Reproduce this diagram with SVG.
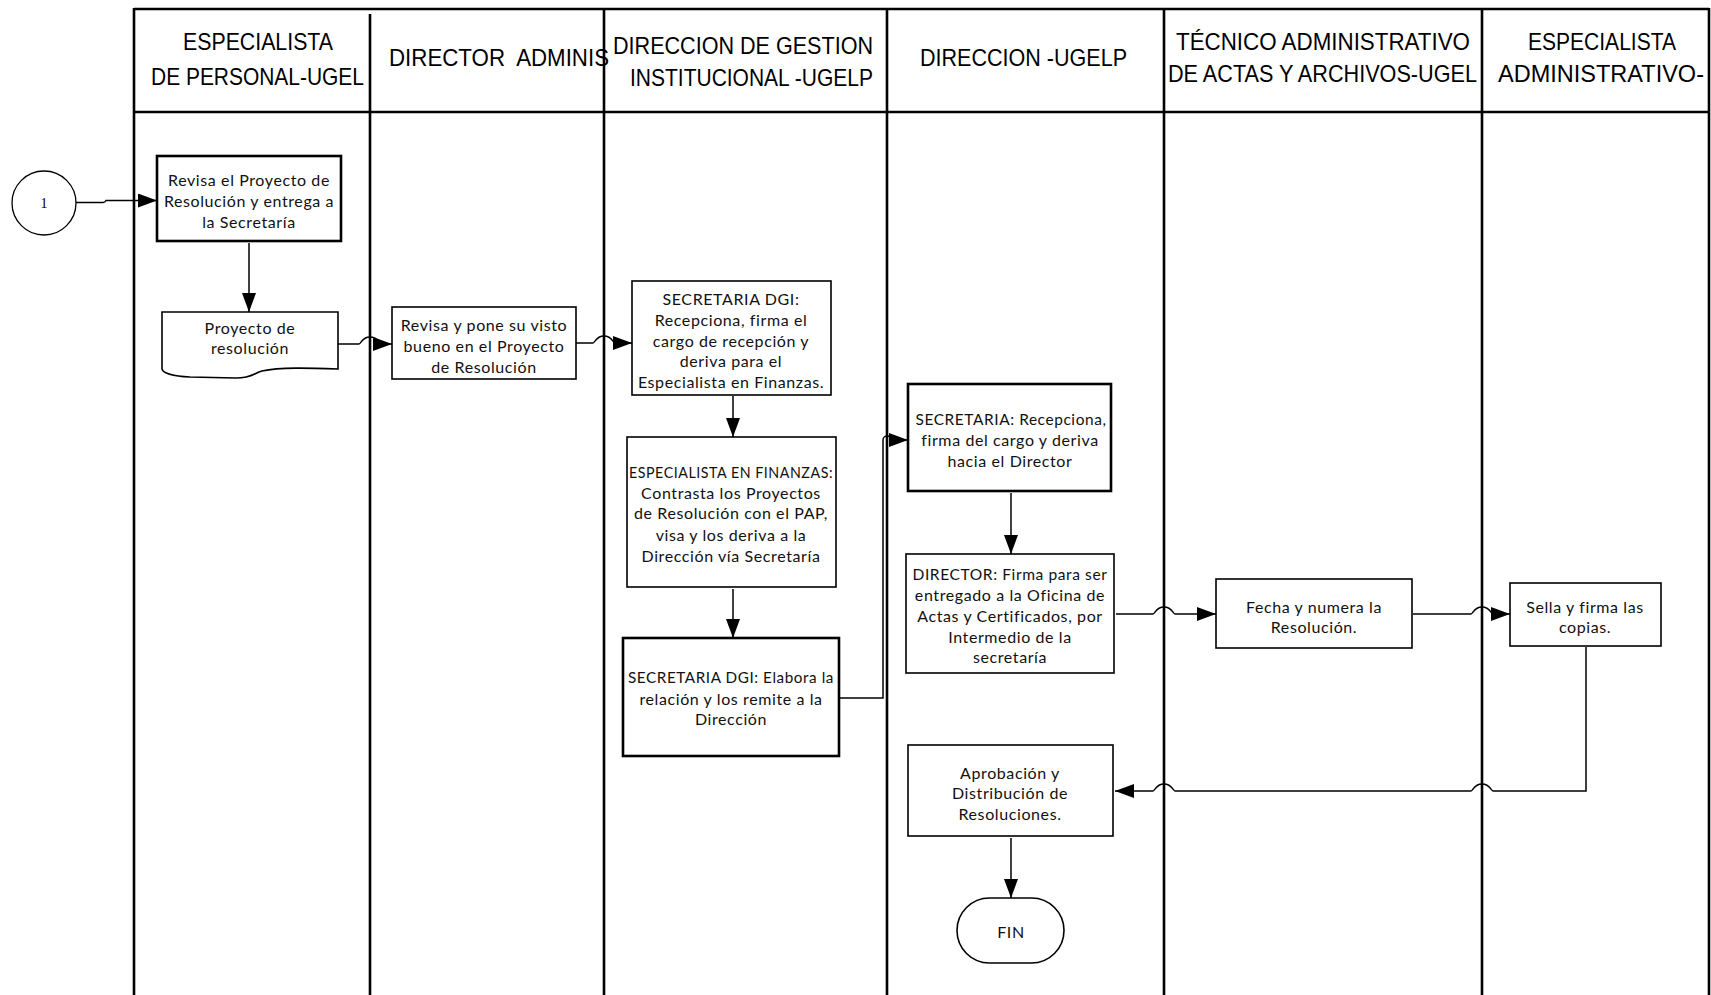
<svg xmlns="http://www.w3.org/2000/svg" width="1711" height="995" viewBox="0 0 1711 995">
  <style>
    .lane { stroke: #000; stroke-width: 2.6; fill: none; }
    .hdr { font-family: "Liberation Sans", Arial, sans-serif; font-size: 24px; fill: #000; white-space: pre; }
    .box { fill: #fff; stroke: #000; stroke-width: 1.6; }
    .box.bold { stroke-width: 2.6; }
    .txt { font-family: Lato, "Open Sans", sans-serif; font-size: 16px; letter-spacing: 0.6px; fill: #111; text-anchor: middle; }
    .conn { fill: none; stroke: #000; stroke-width: 1.5; }
  </style>
  <defs>
    <marker id="arrow" viewBox="0 0 19 14" refX="19" refY="7" markerWidth="19" markerHeight="14" markerUnits="userSpaceOnUse" orient="auto">
      <path d="M0,0 L19,7 L0,14 Z" fill="#000"/>
    </marker>
  </defs>

  <rect width="1711" height="995" fill="#fff"/>

  <!-- swimlane frame -->
  <g id="lanes">
    <line class="lane" x1="134" y1="9" x2="1709" y2="9" stroke-width="3"/>
    <line class="lane" x1="134" y1="112" x2="1709" y2="112" stroke-width="4"/>
    <line class="lane" x1="134" y1="8" x2="134" y2="995"/>
    <line class="lane" x1="370" y1="14" x2="370" y2="995"/>
    <line class="lane" x1="604" y1="9" x2="604" y2="995"/>
    <line class="lane" x1="887" y1="9" x2="887" y2="995"/>
    <line class="lane" x1="1164" y1="9" x2="1164" y2="995"/>
    <line class="lane" x1="1482" y1="9" x2="1482" y2="995"/>
    <line class="lane" x1="1709" y1="8" x2="1709" y2="995"/>
  </g>

  <!-- lane headers -->
  <g id="headers">
    <text class="hdr" x="183" y="50" textLength="150" lengthAdjust="spacingAndGlyphs">ESPECIALISTA</text>
    <text class="hdr" x="151" y="85" textLength="213" lengthAdjust="spacingAndGlyphs">DE PERSONAL-UGEL</text>
    <text class="hdr" x="389" y="66" textLength="220" lengthAdjust="spacingAndGlyphs">DIRECTOR  ADMINIS</text>
    <text class="hdr" x="613" y="54" textLength="260" lengthAdjust="spacingAndGlyphs">DIRECCION DE GESTION</text>
    <text class="hdr" x="630" y="86" textLength="243" lengthAdjust="spacingAndGlyphs">INSTITUCIONAL -UGELP</text>
    <text class="hdr" x="920" y="66" textLength="207" lengthAdjust="spacingAndGlyphs">DIRECCION -UGELP</text>
    <text class="hdr" x="1176" y="50" textLength="294" lengthAdjust="spacingAndGlyphs">TÉCNICO ADMINISTRATIVO</text>
    <text class="hdr" x="1168" y="82" textLength="309" lengthAdjust="spacingAndGlyphs">DE ACTAS Y ARCHIVOS-UGEL</text>
    <text class="hdr" x="1528" y="50" textLength="148" lengthAdjust="spacingAndGlyphs">ESPECIALISTA</text>
    <text class="hdr" x="1498" y="82" textLength="206" lengthAdjust="spacingAndGlyphs">ADMINISTRATIVO-</text>
  </g>

  <!-- connectors -->
  <g id="connectors">
    <path class="conn" d="M76,202.5 H103 Q105,202.5 106,200.5 H157" marker-end="url(#arrow)"/>
    <path class="conn" d="M249,243 V312" marker-end="url(#arrow)"/>
    <path class="conn" d="M338,344 H359 C361,344 362,337 370,337 C378,337 379,344 381,344 H392" marker-end="url(#arrow)"/>
    <path class="conn" d="M576,343 H593 C595,343 596,336 604,336 C612,336 613,343 615,343 H632" marker-end="url(#arrow)"/>
    <path class="conn" d="M733,396 V437" marker-end="url(#arrow)"/>
    <path class="conn" d="M733,589 V638" marker-end="url(#arrow)"/>
    <path class="conn" d="M839,698 H883 V440 A4,4 0 0 1 891,440 H908" marker-end="url(#arrow)"/>
    <path class="conn" d="M1011,493 V554" marker-end="url(#arrow)"/>
    <path class="conn" d="M1116,614 H1153 C1155,614 1156,607 1164,607 C1172,607 1173,614 1175,614 H1216" marker-end="url(#arrow)"/>
    <path class="conn" d="M1413,614 H1471 C1473,614 1474,607 1482,607 C1490,607 1491,614 1493,614 H1510" marker-end="url(#arrow)"/>
    <path class="conn" d="M1586,647 V791 H1493 C1491,791 1490,784 1482,784 C1474,784 1473,791 1471,791 H1175 C1173,791 1172,784 1164,784 C1156,784 1155,791 1153,791 H1115" marker-end="url(#arrow)"/>
    <path class="conn" d="M1011,838 V898" marker-end="url(#arrow)"/>
  </g>

  <!-- off-page connector -->
  <g id="n-start">
    <circle cx="44" cy="203" r="32" fill="#fff" stroke="#000" stroke-width="1.3"/>
    <text x="44" y="208" font-family="'Liberation Serif', 'Times New Roman', serif" font-size="14" text-anchor="middle">1</text>
  </g>

  <g id="n-revisa">
    <rect class="box bold" x="157" y="156" width="184" height="85"/>
    <text class="txt" x="249" y="186">Revisa el Proyecto de</text>
    <text class="txt" x="249" y="207">Resolución y entrega a</text>
    <text class="txt" x="249" y="228">la Secretaría</text>
  </g>

  <g id="n-documento">
    <path class="box" d="M162,312 H338 V369 C310,368 280,367 262,371 C254,373 252,378 236,378 L190,377 C172,376 163,373 162,369 Z"/>
    <text class="txt" x="250" y="334">Proyecto de</text>
    <text class="txt" x="250" y="354">resolución</text>
  </g>

  <g id="n-visto">
    <rect class="box" x="392" y="307" width="184" height="72" stroke-width="2"/>
    <text class="txt" x="484" y="331">Revisa y pone su visto</text>
    <text class="txt" x="484" y="352">bueno en el Proyecto</text>
    <text class="txt" x="484" y="373">de Resolución</text>
  </g>

  <g id="n-sec-dgi">
    <rect class="box" x="632" y="281" width="199" height="114"/>
    <text class="txt" x="731" y="305">SECRETARIA DGI:</text>
    <text class="txt" x="731" y="326">Recepciona, firma el</text>
    <text class="txt" x="731" y="347">cargo de recepción y</text>
    <text class="txt" x="731" y="367">deriva para el</text>
    <text class="txt" x="731" y="388">Especialista en Finanzas.</text>
  </g>

  <g id="n-finanzas">
    <rect class="box" x="627" y="437" width="209" height="150" stroke-width="2"/>
    <text class="txt" x="731" y="478" textLength="204" lengthAdjust="spacingAndGlyphs">ESPECIALISTA EN FINANZAS:</text>
    <text class="txt" x="731" y="499">Contrasta los Proyectos</text>
    <text class="txt" x="731" y="519">de Resolución con el PAP,</text>
    <text class="txt" x="731" y="541">visa y los deriva a la</text>
    <text class="txt" x="731" y="562">Dirección vía Secretaría</text>
  </g>

  <g id="n-elabora">
    <rect class="box bold" x="623" y="638" width="216" height="118"/>
    <text class="txt" x="731" y="683" textLength="206" lengthAdjust="spacingAndGlyphs">SECRETARIA DGI: Elabora la</text>
    <text class="txt" x="731" y="705">relación y los remite a la</text>
    <text class="txt" x="731" y="725">Dirección</text>
  </g>

  <g id="n-secretaria">
    <rect class="box bold" x="908" y="384" width="203" height="107"/>
    <text class="txt" x="1011" y="425" textLength="191" lengthAdjust="spacingAndGlyphs">SECRETARIA: Recepciona,</text>
    <text class="txt" x="1010" y="446">firma del cargo y deriva</text>
    <text class="txt" x="1010" y="467">hacia el Director</text>
  </g>

  <g id="n-director">
    <rect class="box" x="906" y="554" width="208" height="119"/>
    <text class="txt" x="1010" y="580" textLength="195" lengthAdjust="spacingAndGlyphs">DIRECTOR: Firma para ser</text>
    <text class="txt" x="1010" y="601">entregado a la Oficina de</text>
    <text class="txt" x="1010" y="622">Actas y Certificados, por</text>
    <text class="txt" x="1010" y="643">Intermedio de la</text>
    <text class="txt" x="1010" y="663">secretaría</text>
  </g>

  <g id="n-fecha">
    <rect class="box" x="1216" y="579" width="196" height="69" stroke-width="3"/>
    <text class="txt" x="1314" y="613">Fecha y numera la</text>
    <text class="txt" x="1314" y="633">Resolución.</text>
  </g>

  <g id="n-sella">
    <rect class="box" x="1510" y="583" width="151" height="63" stroke-width="3"/>
    <text class="txt" x="1585" y="613">Sella y firma las</text>
    <text class="txt" x="1585" y="633">copias.</text>
  </g>

  <g id="n-aprobacion">
    <rect class="box" x="908" y="745" width="205" height="91"/>
    <text class="txt" x="1010" y="779">Aprobación y</text>
    <text class="txt" x="1010" y="799">Distribución de</text>
    <text class="txt" x="1010" y="820">Resoluciones.</text>
  </g>

  <g id="n-fin">
    <rect class="box" x="957" y="898" width="107" height="65" rx="32.5" ry="32.5" stroke-width="1.4"/>
    <text class="txt" x="1011" y="938" font-size="15">FIN</text>
  </g>
</svg>
